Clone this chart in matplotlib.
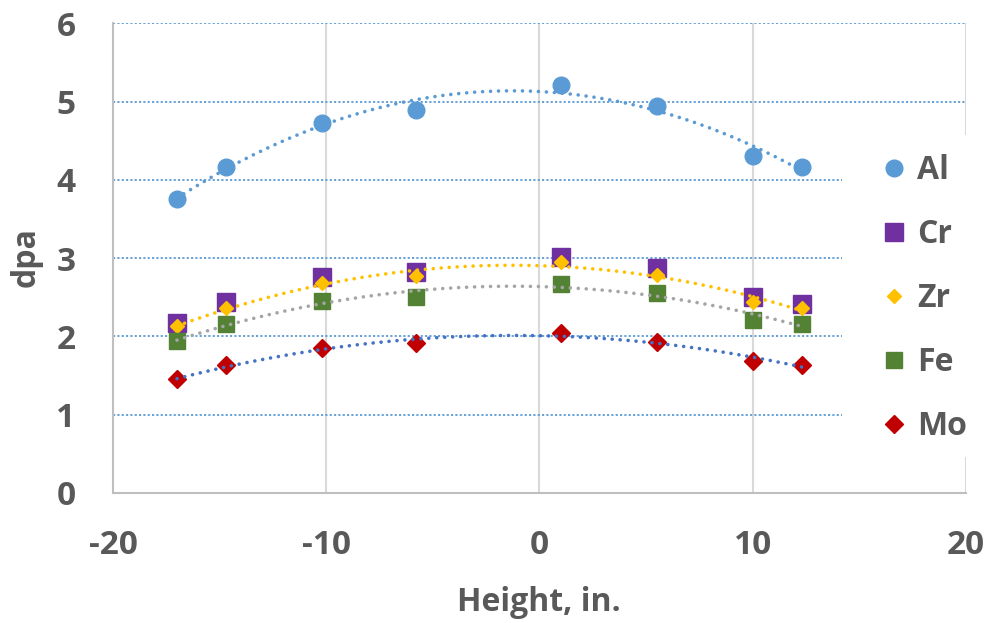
"""
dpa vs. height for each element, with 2nd-order polynomial trendlines.
"""

import numpy as np
import matplotlib
matplotlib.use("Agg")
import matplotlib.pyplot as plt
from matplotlib.patches import Rectangle

# ── DATA ──────────────────────────────────────────────────────────────────────

height = [-17.0, -14.7, -10.2, -5.8, 1.0, 5.5, 10.0, 12.3]
al = [3.76, 4.17, 4.72, 4.89, 5.21, 4.94, 4.31, 4.17]
cr = [2.17, 2.44, 2.76, 2.82, 3.01, 2.87, 2.50, 2.42]
zr = [2.13, 2.36, 2.68, 2.77, 2.95, 2.79, 2.44, 2.36]
fe = [1.94, 2.16, 2.45, 2.50, 2.67, 2.56, 2.21, 2.16]
mo = [1.45, 1.63, 1.85, 1.91, 2.04, 1.93, 1.69, 1.63]

x_ticks = [-20, -10, 0, 10, 20]
y_ticks = [0, 1, 2, 3, 4, 5, 6]

# ── STYLE ─────────────────────────────────────────────────────────────────────

TEXT = "#595959"
plt.rcParams["font.family"] = ["Open Sans", "DejaVu Sans"]
plt.rcParams["font.weight"] = "bold"
plt.rcParams["axes.unicode_minus"] = False

# name, values, marker, size, colour, trendline colour (None = no trendline)
series = [
    ("Al", al, "o", 12, "#5B9BD5", "#5B9BD5"),
    ("Cr", cr, "s", 13, "#7030A0", None),
    ("Zr", zr, "D", 7.5, "#FFC000", "#FFC000"),
    ("Fe", fe, "s", 11.5, "#548235", "#A5A5A5"),
    ("Mo", mo, "D", 9.3, "#C00000", "#4472C4"),
]

fig = plt.figure(figsize=(9.88, 6.23), dpi=100)
ax = fig.add_axes([0.1144, 0.2087, 0.8633, 0.7539])

xs = np.array(height)
xfit = np.linspace(xs.min(), xs.max(), 200)

for name, vals, mk, ms, col, tcol in series:
    ax.plot(xs, vals, linestyle="none", marker=mk, markersize=ms,
            color=col, markeredgecolor=col, label=name, zorder=3)

# trendlines go on top of the markers, like Excel draws them
for name, vals, mk, ms, col, tcol in series:
    if tcol is None:
        continue
    coef = np.polyfit(xs, vals, 2)
    ax.plot(xfit, np.polyval(coef, xfit), color=tcol, linewidth=2.6,
            linestyle=(0, (0.01, 2.2)), dash_capstyle="round",
            label="_nolegend_", zorder=4)

ax.set_xlim(-20, 20)
ax.set_ylim(0, 6)
ax.set_xticks(x_ticks)
ax.set_yticks(y_ticks)
ax.tick_params(length=0, labelsize=24, labelcolor=TEXT)
ax.tick_params(axis="x", pad=26)
ax.tick_params(axis="y", pad=27)

# gridlines: blue dotted horizontals, light grey solid verticals
for y in y_ticks[1:]:
    ax.axhline(y, color="#5B9BD5", linewidth=1.3,
               linestyle=(0, (1.2, 1.2)), zorder=1)
for x in x_ticks[1:]:
    ax.axvline(x, color="#D9D9D9", linewidth=1.5, zorder=0.5)

ax.spines[["top", "right"]].set_visible(False)
for side in ["left", "bottom"]:
    ax.spines[side].set_color("#BFBFBF")
    ax.spines[side].set_linewidth(1.5)

ax.set_xlabel("Height, in.", fontsize=23, color=TEXT, fontweight="bold")
ax.set_ylabel("dpa", fontsize=23, color=TEXT, fontweight="bold")
ax.xaxis.set_label_coords(0.4994, -0.198)
ax.yaxis.set_label_coords(-0.082, 0.502)

# white legend area sitting over the grid on the right
ax.add_patch(Rectangle((0.855, 0.077), 0.16, 0.685, transform=ax.transAxes,
                       facecolor="white", edgecolor="none",
                       clip_on=False, zorder=4.5))

leg = ax.legend(loc="upper left", bbox_to_anchor=(0.8968, 0.721),
                frameon=False, fontsize=23, borderpad=0, borderaxespad=0,
                handlelength=1.0, handletextpad=0.22, labelspacing=0.97)
leg.set_zorder(5)
for t in leg.get_texts():
    t.set_color(TEXT)
    t.set_fontweight("bold")

fig.savefig("out.png", dpi=100)
